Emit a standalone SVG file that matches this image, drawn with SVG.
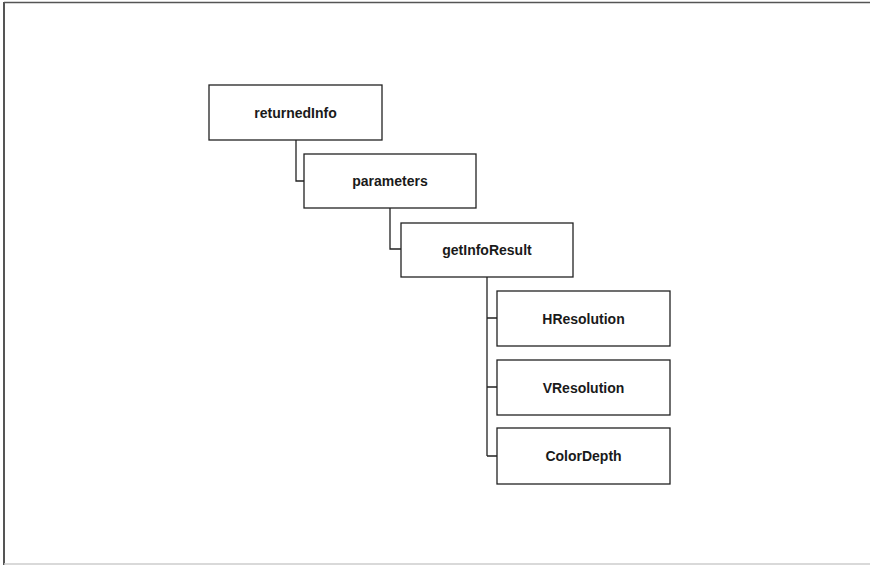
<svg xmlns="http://www.w3.org/2000/svg" width="870" height="565" viewBox="0 0 870 565">
  <style>
    .node rect { fill: #ffffff; stroke: #222222; stroke-width: 1.3; }
    .node text { font-family: "Liberation Sans", Arial, sans-serif; font-size: 14px; font-weight: bold; fill: #1a1a1a; text-anchor: middle; dominant-baseline: central; }
    .links path { fill: none; stroke: #222222; stroke-width: 1.3; }
  </style>
  <rect x="0" y="0" width="870" height="565" fill="#ffffff"/>
  <!-- frame -->
  <line x1="4" y1="2.5" x2="870" y2="2.5" stroke="#555555" stroke-width="1.5"/>
  <line x1="4" y1="2" x2="4" y2="565" stroke="#555555" stroke-width="2"/>
  <line x1="4" y1="564" x2="870" y2="564" stroke="#cccccc" stroke-width="1.5"/>

  <g class="links">
    <path d="M296,140 V181 H304"/>
    <path d="M390,208 V249 H401"/>
    <path d="M487,277 V456 M487,318 H497 M487,387 H497 M487,456 H497"/>
  </g>

  <g id="returnedInfo" class="node">
    <rect x="209" y="85" width="173" height="55"/>
    <text x="295.5" y="112.5">returnedInfo</text>
  </g>
  <g id="parameters" class="node">
    <rect x="304" y="154" width="172" height="54"/>
    <text x="390" y="181">parameters</text>
  </g>
  <g id="getInfoResult" class="node">
    <rect x="401" y="223" width="172" height="54"/>
    <text x="487" y="250">getInfoResult</text>
  </g>
  <g id="HResolution" class="node">
    <rect x="497" y="291" width="173" height="55"/>
    <text x="583.5" y="318.5">HResolution</text>
  </g>
  <g id="VResolution" class="node">
    <rect x="497" y="360" width="173" height="55"/>
    <text x="583.5" y="387.5">VResolution</text>
  </g>
  <g id="ColorDepth" class="node">
    <rect x="497" y="428" width="173" height="56"/>
    <text x="583.5" y="456">ColorDepth</text>
  </g>
</svg>
